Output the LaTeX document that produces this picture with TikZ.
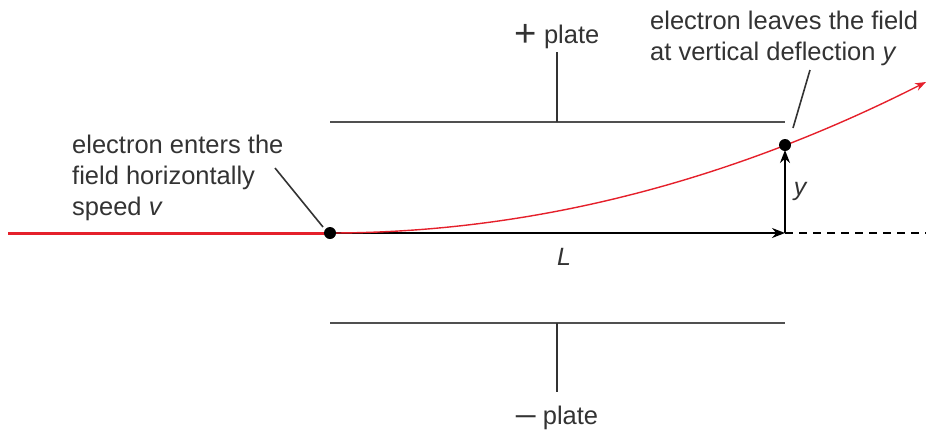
\documentclass[tikz,border=0pt]{standalone}
\usepackage{fontspec}
\setmainfont{Liberation Sans}
\usetikzlibrary{arrows.meta}
\definecolor{ink}{HTML}{333333}
\definecolor{platec}{HTML}{505050}
\definecolor{elred}{HTML}{E5202B}
\begin{document}
\begin{tikzpicture}[x=1pt,y=-1pt,
  lbl/.style={font=\fontsize{25.5}{31}\selectfont, text=ink, inner sep=0pt, align=left},
  plateline/.style={draw=platec, line width=2pt},
  ptr/.style={draw=ink, line width=1.6pt},
  arr/.style={draw=black, line width=1.6pt, -{Stealth[length=13pt,width=10pt]}},
  dotst/.style={circle, fill=black, inner sep=0pt, minimum size=12pt}]
\useasboundingbox (0,0) rectangle (926,432);

% plates
\coordinate (tpl) at (330,122); \coordinate (tpr) at (785,122);
\coordinate (tpm) at (557,122); \coordinate (tps) at (557,52);
\coordinate (bpl) at (330,323); \coordinate (bpr) at (785,323);
\coordinate (bpm) at (557,323); \coordinate (bps) at (557,392);
\draw[plateline] (tpl) -- (tpr);
\draw[plateline] (bpl) -- (bpr);
\draw[ptr] (tpm) -- (tps);
\draw[ptr] (bpm) -- (bps);
\node[lbl, anchor=base] (plus) at (557,43) {\raisebox{-3pt}{\scalebox{1.5}{+}} plate};
\node[lbl, anchor=base] (minus) at (557,424) {\scalebox{1.4}[1.2]{–} plate};

% beam
\coordinate (start) at (8,233);
\coordinate (enter) at (330,233);
\coordinate (lend) at (785,233);
\coordinate (dend) at (926,233);
\coordinate (leave) at (785,145);
\coordinate (tip) at (926,82);
\draw[elred, line width=3pt] (start) -- (enter);
\draw[arr] (enter) -- (lend);
\draw[black, line width=1.3pt, dash pattern=on 8pt off 6pt] (lend) -- (dend);
\draw[arr] (lend) -- (785,150);
\draw[elred, line width=1.4pt, -{Stealth[length=11pt,width=8pt]}] (enter) .. controls (528.7,233) and (727.3,182.7) .. (tip);
\node[dotst] (d1) at (enter) {};
\node[dotst] (d2) at (leave) {};

\node[lbl, font=\fontsize{25}{31}\itshape] (ylab) at (800,191) {y};
\node[lbl, font=\fontsize{25}{31}\itshape] (Llab) at (564,257) {L};

% annotations
\node[lbl, anchor=base west] (t1) at (72,215) {electron enters the\\field horizontally\\speed \textit{v}};
\coordinate (p1a) at (275,168); \coordinate (p1b) at (323,227);
\draw[ptr] (p1a) -- (p1b);
\node[lbl, anchor=base west] (t2) at (650,60) {electron leaves the field\\at vertical deflection \textit{y}};
\coordinate (p2a) at (810,70); \coordinate (p2b) at (793,128);
\draw[ptr] (p2a) -- (p2b);
\end{tikzpicture}
\end{document}
